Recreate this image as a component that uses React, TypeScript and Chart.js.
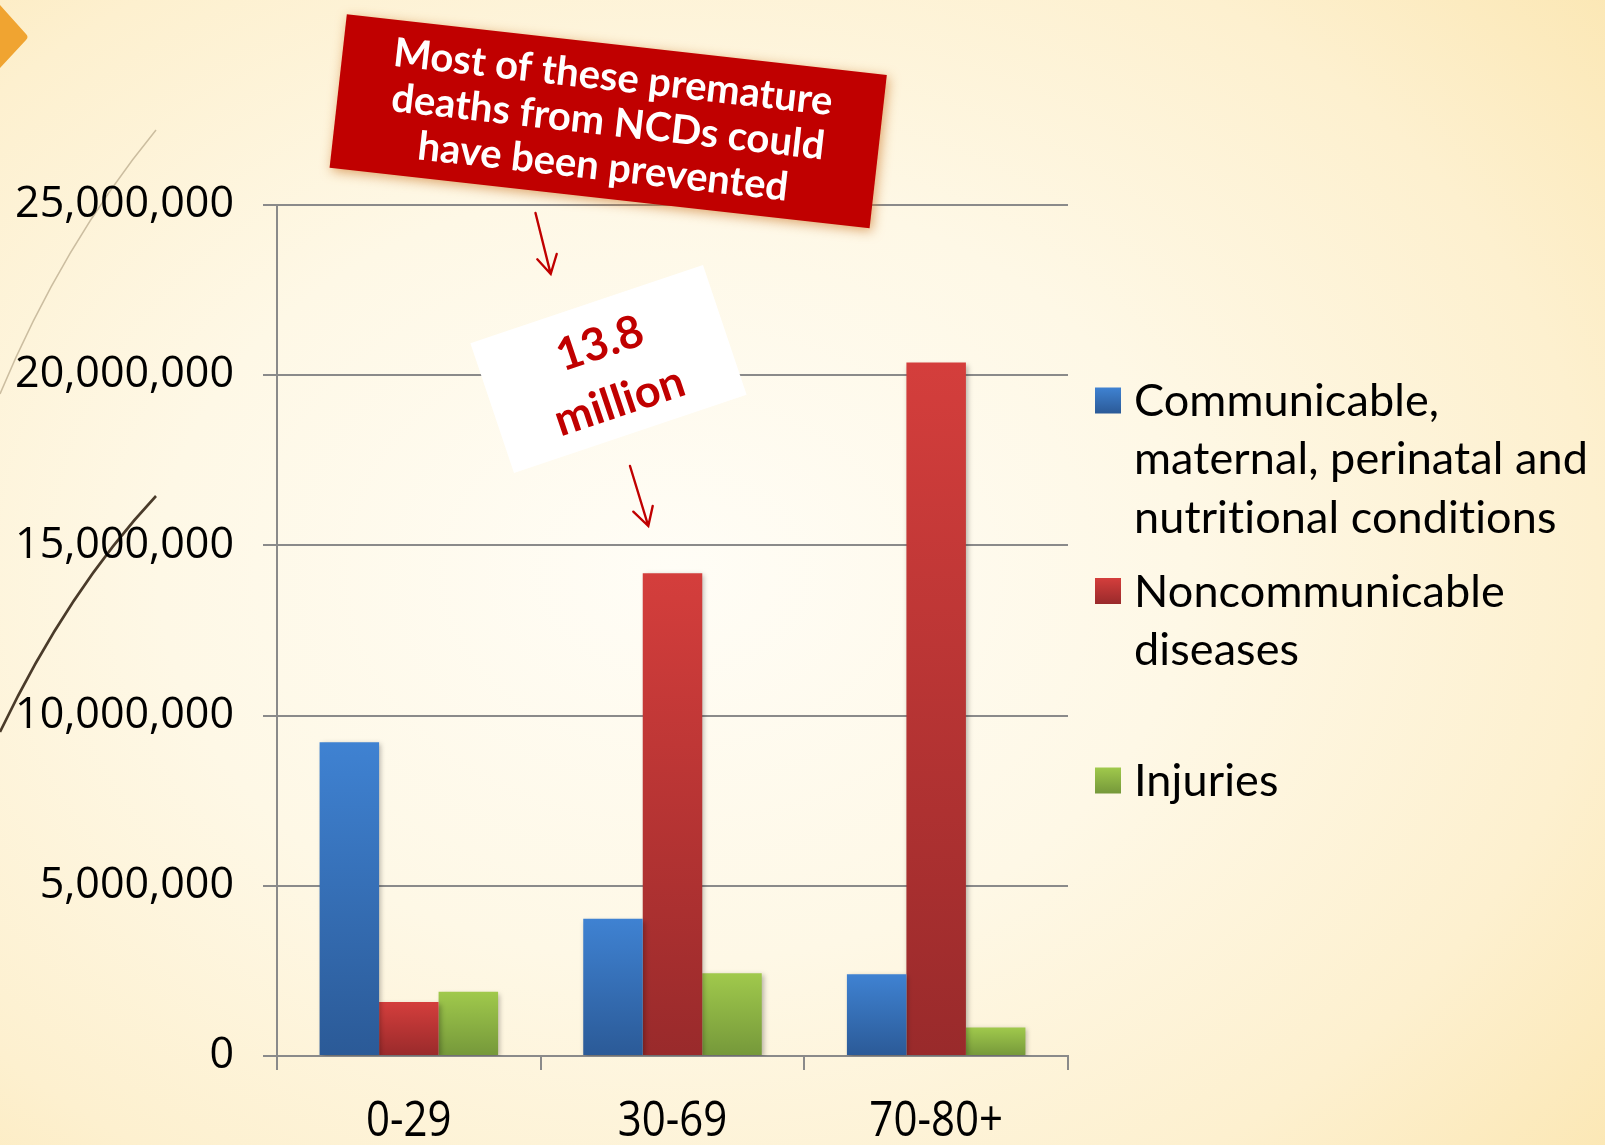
import React, { useEffect, useRef } from "react";
import { Chart, registerables } from "chart.js";

Chart.register(...registerables);

// ---------- data ----------
const categories = ["0-29", "30-69", "70-80+"];
const communicable = [9220000, 4030000, 2400000];
const noncommunicable = [1590000, 14180000, 20370000];
const injuries = [1890000, 2430000, 840000];
const yTickValues = [0, 5000000, 10000000, 15000000, 20000000, 25000000];
const seriesNames = [
  "Communicable, maternal, perinatal and nutritional conditions",
  "Noncommunicable diseases",
  "Injuries",
];
const legendLines = [
  ["Communicable,", "maternal, perinatal and", "nutritional conditions"],
  ["Noncommunicable", "diseases"],
  ["Injuries"],
];
const calloutLines = ["Most of these premature", "deaths from NCDs could", "have been prevented"];
const figureLines = ["13.8", "million"];

// ---------- styles ----------
const seriesTop = ["#3f82d2", "#d43e3c", "#a0c94c"];
const seriesBottom = ["#2b5a97", "#992a2b", "#75983a"];
const W = 1605;
const H = 1145;

function barGradient(i: number) {
  return (ctx: any) => {
    const chart = ctx.chart;
    if (ctx.type !== "data" || !chart.chartArea || !chart.scales?.y) return seriesBottom[i];
    const ys = chart.scales.y;
    const yTop = ys.getPixelForValue(ctx.raw as number);
    const yBot = ys.getPixelForValue(0);
    if (!isFinite(yTop) || !isFinite(yBot) || yTop === yBot) return seriesBottom[i];
    const g = chart.ctx.createLinearGradient(0, yTop, 0, yBot);
    g.addColorStop(0, seriesTop[i]);
    g.addColorStop(1, seriesBottom[i]);
    return g;
  };
}

const decorPlugin = {
  id: "decor",
  beforeDraw(chart: any) {
    const c = chart.ctx;
    c.save();
    // orange chevron top-left
    c.fillStyle = "#f0a431";
    c.beginPath();
    c.moveTo(0, 5);
    c.lineTo(26, 34);
    c.quadraticCurveTo(29, 37, 26, 40);
    c.lineTo(0, 68);
    c.closePath();
    c.fill();
    // light curve
    c.strokeStyle = "rgba(190,175,145,0.8)";
    c.lineWidth = 1.5;
    c.beginPath();
    c.moveTo(156, 130);
    c.quadraticCurveTo(62, 245, 0, 394);
    c.stroke();
    // dark curve
    c.strokeStyle = "#4a3b2a";
    c.lineWidth = 2.6;
    c.beginPath();
    c.moveTo(156, 496);
    c.quadraticCurveTo(68, 590, 0, 732);
    c.stroke();
    c.restore();
  },
  beforeDatasetsDraw(chart: any) {
    const c = chart.ctx;
    c.save();
    c.shadowColor = "rgba(0,0,0,0.28)";
    c.shadowBlur = 5;
    c.shadowOffsetX = 2;
    c.shadowOffsetY = 2;
  },
  afterDatasetsDraw(chart: any) {
    chart.ctx.restore();
  },
  afterDraw(chart: any) {
    const c = chart.ctx;

    // ----- category labels (condensed) -----
    const xs = chart.scales.x;
    c.save();
    c.fillStyle = "#000";
    c.font = "50px 'Open Sans'";
    c.textAlign = "center";
    c.textBaseline = "alphabetic";
    (chart.data.labels as string[]).forEach((lab, i) => {
      const px = xs.getPixelForValue(i);
      c.save();
      c.translate(px, 1136);
      c.scale(0.84, 1);
      c.fillText(lab, 0, 0);
      c.restore();
    });
    c.restore();

    // ----- legend -----
    const swX = 1095;
    const sw = 26;
    const textX = 1134;
    const lineH = 58.4;
    const firstLineY = [400.5, 591, 780.5];
    c.save();
    c.font = "45px Lato";
    try {
      (c as any).letterSpacing = "0.1px";
    } catch (e) {}
    c.textBaseline = "middle";
    c.textAlign = "left";
    chart.data.datasets.forEach((ds: any, i: number) => {
      const y0 = firstLineY[i];
      const g = c.createLinearGradient(0, y0 - sw / 2, 0, y0 + sw / 2);
      g.addColorStop(0, seriesTop[i]);
      g.addColorStop(1, seriesBottom[i]);
      c.fillStyle = g;
      c.fillRect(swX, y0 - sw / 2, sw, sw);
      c.fillStyle = "#000";
      legendLines[i].forEach((t, k) => c.fillText(t, textX, y0 + k * lineH + 1));
    });
    try {
      (c as any).letterSpacing = "0px";
    } catch (e) {}
    c.restore();

    // ----- arrows -----
    const arrow = (x0: number, y0: number, x1: number, y1: number, w1: number[], w2: number[]) => {
      c.save();
      c.strokeStyle = "#c00000";
      c.lineWidth = 2.4;
      c.lineCap = "round";
      c.beginPath();
      c.moveTo(x0, y0);
      c.lineTo(x1, y1);
      c.moveTo(w1[0], w1[1]);
      c.lineTo(x1, y1);
      c.lineTo(w2[0], w2[1]);
      c.stroke();
      c.restore();
    };
    arrow(535.5, 213, 550.7, 274, [537.3, 259.3], [556.7, 254]);
    arrow(630, 466, 648.3, 526, [633.3, 511.7], [652.7, 506]);

    // ----- red callout -----
    c.save();
    c.translate(608.2, 121.3);
    c.rotate((6.41 * Math.PI) / 180);
    c.shadowColor = "rgba(205,120,40,0.65)";
    c.shadowBlur = 12;
    c.shadowOffsetX = 2;
    c.shadowOffsetY = 3;
    c.fillStyle = "#c00000";
    c.fillRect(-271.7, -77.2, 543.4, 154.4);
    c.shadowColor = "transparent";
    c.shadowBlur = 0;
    c.shadowOffsetX = 0;
    c.shadowOffsetY = 0;
    c.fillStyle = "#ffffff";
    c.font = "bold 40px Lato";
    c.textAlign = "center";
    c.textBaseline = "alphabetic";
    const bl = [-31, 14, 59];
    calloutLines.forEach((t, k) => c.fillText(t, 0, bl[k]));
    c.restore();

    // ----- white figure box -----
    c.save();
    c.translate(608.5, 369);
    c.rotate((-18.6 * Math.PI) / 180);
    c.fillStyle = "#ffffff";
    c.fillRect(-122.7, -68.4, 245.4, 136.8);
    c.fillStyle = "#c00000";
    c.font = "bold 45px Lato";
    c.textAlign = "center";
    c.textBaseline = "alphabetic";
    const fb = [-12, 49];
    figureLines.forEach((t, k) => c.fillText(t, 0, fb[k]));
    c.restore();
  },
};

export default function App() {
  const ref = useRef<HTMLCanvasElement | null>(null);

  useEffect(() => {
    document.body.style.margin = "0";
    const canvas = ref.current;
    if (!canvas) return;
    const data = [communicable, noncommunicable, injuries];
    const chart = new Chart(canvas, {
      type: "bar",
      data: {
        labels: categories,
        datasets: data.map((values, i) => ({
          label: seriesNames[i],
          data: values,
          backgroundColor: barGradient(i),
          borderWidth: 0,
          categoryPercentage: 0.677,
          barPercentage: 1.0,
        })),
      },
      options: {
        animation: false,
        responsive: false,
        devicePixelRatio: 1,
        layout: { padding: { top: 205, right: 537, bottom: 0, left: 0 } },
        plugins: {
          legend: { display: false },
          tooltip: { enabled: false },
          title: { display: false },
        },
        scales: {
          x: {
            grid: {
              display: true,
              drawOnChartArea: false,
              drawTicks: true,
              tickLength: 14,
              color: "#8a8a8a",
              lineWidth: 2,
              offset: true,
            },
            border: { display: true, color: "#8a8a8a", width: 2 },
            ticks: { display: false },
            afterFit: (s: any) => {
              s.height = 89;
            },
          },
          y: {
            min: 0,
            max: 25000000,
            afterBuildTicks: (s: any) => {
              s.ticks = yTickValues.map((v) => ({ value: v }));
            },
            ticks: {
              color: "#000",
              font: { family: "'Open Sans'", size: 43 },
              padding: 29,
              callback: (v: any) => Number(v).toLocaleString("en-US"),
            },
            grid: { color: "#8a8a8a", lineWidth: 2, tickLength: 14 },
            border: { display: true, color: "#8a8a8a", width: 2 },
            afterFit: (s: any) => {
              s.width = 277;
            },
          },
        },
      },
      plugins: [decorPlugin],
    });
    return () => chart.destroy();
  }, []);

  return (
    <div
      style={{
        position: "absolute",
        left: 0,
        top: 0,
        width: W,
        height: H,
        overflow: "hidden",
        background:
          "radial-gradient(ellipse 80% 85% at 42% 50%, #fffdf6 0%, #fef8e6 40%, #fdf0cf 72%, #fbe5ae 100%)",
      }}
    >
      <canvas ref={ref} width={W} height={H} style={{ display: "block", width: W, height: H }} />
    </div>
  );
}
